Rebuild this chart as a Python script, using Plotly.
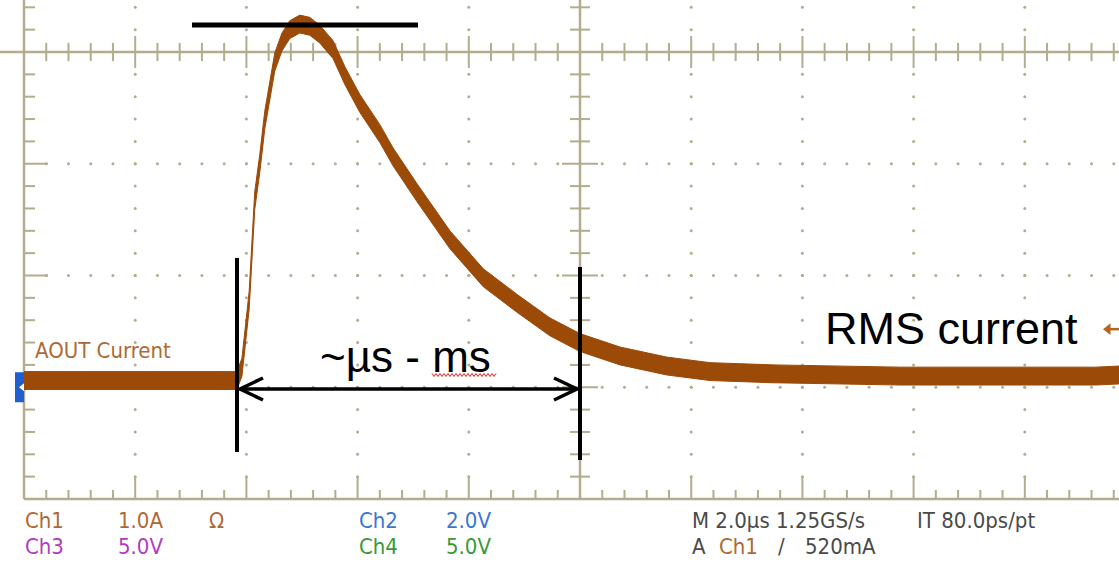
import numpy as np
import plotly.graph_objects as go

W, H = 1119, 565

# ---------------- data ----------------
# Ch1 waveform, time relative to screen centre (2.0 us/div), current in A (1.0 A/div)
time_us = [-10.0, -8.0, -6.6, -6.17, -6.08, -6.03, -5.95, -5.85, -5.76, -5.67,
           -5.58, -5.49, -5.36, -5.22, -5.04, -4.86, -4.68, -4.44, -4.23, -3.96,
           -3.60, -3.36, -2.93, -2.34, -1.74, -1.13, -0.54, 0.0, 0.72, 1.56,
           2.34, 3.49, 5.76, 9.28, 9.7]
current_A = [0.06, 0.06, 0.06, 0.06, 0.18, 0.42, 0.78, 1.67, 2.00, 2.39,
             2.66, 2.91, 3.09, 3.20, 3.25, 3.23, 3.16, 3.02, 2.79, 2.54,
             2.27, 2.06, 1.74, 1.32, 0.98, 0.75, 0.54, 0.40, 0.28, 0.19,
             0.14, 0.12, 0.10, 0.10, 0.11]

ch1_volts_per_div = 1.0      # A/div
ch1_ground_div = -3.0        # ground marker position (div from centre)
trigger_level_A = 0.52

row1_labels = ["Ch1", "1.0A", "Ω", "Ch2", "2.0V", "M 2.0µs 1.25GS/s", "IT 80.0ps/pt"]
row2_labels = ["Ch3", "5.0V", "Ch4", "5.0V", "A", "Ch1", "/", "520mA"]

# ---------------- geometry ----------------
PX_PER_US = 55.6
PX_PER_DIV = 111.75
x0 = -10.0 - 24 / PX_PER_US
x1 = x0 + W / PX_PER_US
y1 = 52 / PX_PER_DIV
y0 = y1 - H / PX_PER_DIV


def X(px):
    return x0 + px / PX_PER_US


def Y(py):
    return y1 - py / PX_PER_DIV


GRAT = "#b2ad8f"
TRACE = "#9c4a08"

fig = go.Figure()


def seg_trace(xs, ys, width, color=GRAT):
    fig.add_trace(go.Scatter(x=xs, y=ys, mode="lines", hoverinfo="skip",
                             line=dict(color=color, width=width), showlegend=False))


# borders and centre lines
seg_trace([-10, -10, None, -10, x1, None, x0, x1, None, 0, 0],
          [-4, y1, None, -4, -4, None, 0, 0, None, -4, y1], 2.5)

# ticks
tx, ty = [], []
us_minor = np.round(np.arange(-10, 10.01, 0.4), 3)
div_minor = np.round(np.arange(-4, 0.61, 0.2), 3)
for t in us_minor:
    if t <= -10 or t >= x1:
        continue
    major = abs(t / 2 - round(t / 2)) < 1e-6
    h = (16 if major else 9) / PX_PER_DIV
    tx += [t, t, None]
    ty += [-h, h, None]
    hb = (23 if major else 9) / PX_PER_DIV
    tx += [t, t, None]
    ty += [-4, -4 + hb, None]
for d in div_minor:
    if d <= -4 or d >= y1:
        continue
    major = abs(d - round(d)) < 1e-6
    w = (18 if major else 10) / PX_PER_US
    tx += [-w, w, None]
    ty += [d, d, None]
    wb = (24 if major else 11) / PX_PER_US
    tx += [-10, -10 + wb, None]
    ty += [d, d, None]
seg_trace(tx, ty, 2)

# dotted grid
dx, dy = [], []
for t in [-8, -6, -4, -2, 2, 4, 6, 8]:
    for d in div_minor:
        if -4 < d < y1 and abs(d) > 1e-6:
            dx.append(t)
            dy.append(d)
for d in [-1, -2, -3]:
    for t in us_minor:
        if -10 < t < x1 and abs(t) > 1e-6:
            dx.append(t)
            dy.append(d)
fig.add_trace(go.Scatter(x=dx, y=dy, mode="markers", hoverinfo="skip", showlegend=False,
                         marker=dict(color=GRAT, size=3, line=dict(width=0))))

# waveform as a noise band
ydiv = np.array(current_A) / ch1_volts_per_div + ch1_ground_div
half = 0.08
fig.add_trace(go.Scatter(x=time_us, y=ydiv + half, mode="lines", hoverinfo="skip",
                         line=dict(color=TRACE, width=1), showlegend=False))
fig.add_trace(go.Scatter(x=time_us, y=ydiv - half, mode="lines", hoverinfo="skip",
                         line=dict(color=TRACE, width=1), fill="tonexty",
                         fillcolor=TRACE, showlegend=False))

# trigger level marker (right edge)
trig_y = trigger_level_A / ch1_volts_per_div + ch1_ground_div
fig.add_trace(go.Scatter(x=[X(1108)], y=[trig_y], mode="markers", hoverinfo="skip",
                         showlegend=False,
                         marker=dict(symbol="triangle-left", size=10, color="#b5651d")))
seg_trace([X(1108), X(1119)], [trig_y, trig_y], 2.5, "#b5651d")

shapes = []
# ground marker (left)
gy = ch1_ground_div
shapes.append(dict(type="rect", xref="x", yref="y", x0=X(15), x1=X(24),
                   y0=gy - 15 / PX_PER_DIV, y1=gy + 15 / PX_PER_DIV,
                   fillcolor="#1f5fd0", line=dict(width=0), layer="above"))
shapes.append(dict(type="path", xref="x", yref="y",
                   path=f"M {X(19)},{gy} L {X(24)},{gy + 4 / PX_PER_DIV} L {X(24)},{gy - 4 / PX_PER_DIV} Z",
                   fillcolor="white", line=dict(width=0), layer="above"))

# black overlay markup
BLK = "black"
shapes.append(dict(type="line", xref="x", yref="y", x0=X(192), x1=X(418),
                   y0=Y(25), y1=Y(25), line=dict(color=BLK, width=5), layer="above"))
shapes.append(dict(type="line", xref="x", yref="y", x0=X(237), x1=X(237),
                   y0=Y(258), y1=Y(452), line=dict(color=BLK, width=4), layer="above"))
shapes.append(dict(type="line", xref="x", yref="y", x0=X(580), x1=X(580),
                   y0=Y(267), y1=Y(460), line=dict(color=BLK, width=4), layer="above"))
ay = Y(389)
shapes.append(dict(type="line", xref="x", yref="y", x0=X(240), x1=X(577),
                   y0=ay, y1=ay, line=dict(color=BLK, width=3.5), layer="above"))
ah_dx, ah_dy = 23 / PX_PER_US, 11 / PX_PER_DIV
for tip, sgn in [(X(240), 1), (X(577), -1)]:
    shapes.append(dict(type="path", xref="x", yref="y",
                       path=f"M {tip + sgn * ah_dx},{ay + ah_dy} L {tip},{ay} L {tip + sgn * ah_dx},{ay - ah_dy}",
                       line=dict(color=BLK, width=3.5), layer="above"))
# red spell-check squiggle under "ms"
sq = []
for i, px in enumerate(range(432, 498, 2)):
    py = 375 + (1.5 if i % 2 else -1.5)
    sq.append(("M" if i == 0 else "L") + f" {X(px)},{Y(py)}")
shapes.append(dict(type="path", xref="x", yref="y", path=" ".join(sq),
                   line=dict(color="#e02020", width=1), layer="above"))

annotations = []


def label(text, px, py, color, size, family, anchor="left"):
    annotations.append(dict(text=text, x=px / W, y=1 - py / H, xref="paper", yref="paper",
                            xanchor=anchor, yanchor="middle", showarrow=False,
                            font=dict(color=color, size=size, family=family)))


SCOPE_FONT = "DejaVu Sans Condensed, Liberation Sans Narrow, Roboto, sans-serif"
ARIAL = "Liberation Sans, Arial, sans-serif"
BROWN_T = "#ad6a35"
MAG = "#b03cbe"
BLUE = "#3a76d2"
GREEN = "#379a37"
GRAY = "#4a4a4a"

label("AOUT Current", 33, 350, BROWN_T, 22, SCOPE_FONT)
row1_pos = [23, 116, 207, 357, 444, 690, 915]
row1_col = [BROWN_T, BROWN_T, BROWN_T, BLUE, BLUE, GRAY, GRAY]
for t, p, c in zip(row1_labels, row1_pos, row1_col):
    label(t, p, 520, c, 22, SCOPE_FONT)
row2_pos = [23, 116, 357, 444, 690, 717, 776, 803]
row2_col = [MAG, MAG, GREEN, GREEN, GRAY, BROWN_T, GRAY, GRAY]
for t, p, c in zip(row2_labels, row2_pos, row2_col):
    label(t, p, 546, c, 22, SCOPE_FONT)

label("~µs - ms", 318, 356, "black", 44, ARIAL)
label("RMS current", 823, 328, "black", 45, ARIAL)

fig.update_layout(
    width=W, height=H, margin=dict(l=0, r=0, t=0, b=0),
    paper_bgcolor="white", plot_bgcolor="white", showlegend=False,
    xaxis=dict(range=[x0, x1], visible=False, fixedrange=True),
    yaxis=dict(range=[y0, y1], visible=False, fixedrange=True),
    shapes=shapes, annotations=annotations,
)

fig.write_html("out.html", config={"displayModeBar": False},
               post_script="document.body.style.margin='0';document.body.style.overflow='hidden';")
